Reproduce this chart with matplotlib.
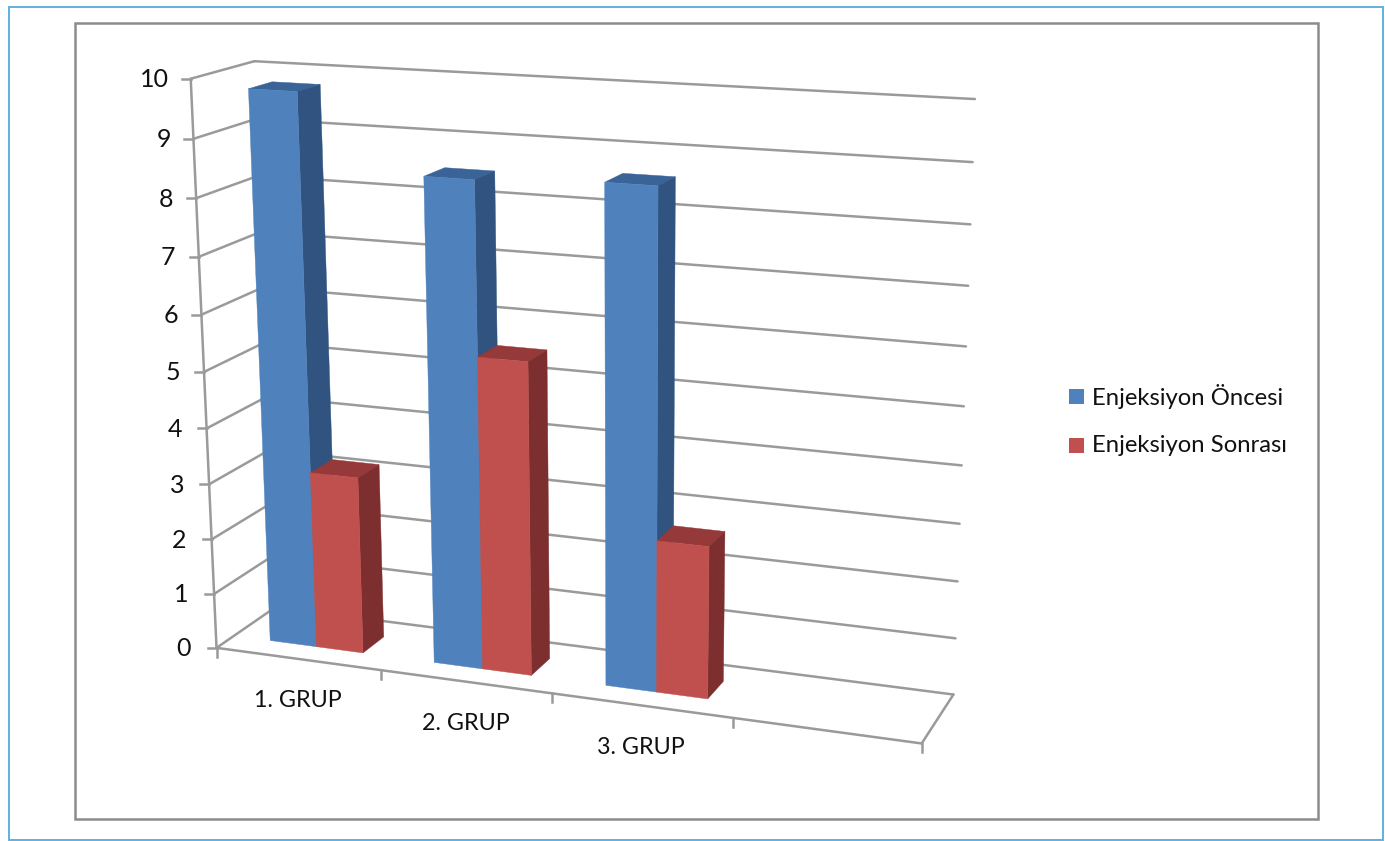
import numpy as np
import matplotlib
matplotlib.use("Agg")
import matplotlib.pyplot as plt
from matplotlib.patches import Polygon, Rectangle

# Chart data
categories = ["1. GRUP", "2. GRUP", "3. GRUP"]
series_names = ["Enjeksiyon Öncesi", "Enjeksiyon Sonrası"]
before_values = [9.78, 8.5, 8.6]
after_values = [3.19, 5.52, 2.67]
value_ticks = list(range(0, 11))

# Colours: (front, side, top)
BLUE = ("#4F81BD", "#305380", "#3A6498")
RED = ("#C0504D", "#7C2F2E", "#95393A")
GRID = "#9A9A9A"

# The plot box runs over four category slots, values 0-10 and unit depth.
SLOTS = 4
VMAX = 10
GAP_WIDTH = 1.5
BAR_SHIFT = 0.012
Z0, Z1 = 0.29, 0.67
GRID_LW = 1.8

# Box corners on the canvas, used to solve the camera of the 3-D view.
box_corners = [
    ((0, VMAX, 0), (192, 79)),
    ((0, 0, 0), (215, 648)),
    ((SLOTS, 0, 0), (922, 743)),
    ((SLOTS, 0, 1), (953, 695)),
    ((0, 0, 1), (277, 607)),
    ((0, VMAX, 1), (253, 61)),
    ((SLOTS, VMAX, 1), (975, 99)),
]


def solve_camera(corners):
    rows = []
    for (x, y, z), (u, v) in corners:
        u, v = u / 1000, v / 1000
        rows.append([x, y, z, 1, 0, 0, 0, 0, -u * x, -u * y, -u * z, -u])
        rows.append([0, 0, 0, 0, x, y, z, 1, -v * x, -v * y, -v * z, -v])
    return np.linalg.svd(np.array(rows, float))[2][-1].reshape(3, 4)


CAMERA = solve_camera(box_corners)


def project(x, y, z):
    p = CAMERA @ np.array([x, y, z, 1.0])
    return (1000 * p[0] / p[2], 1000 * p[1] / p[2])


fig = plt.figure(figsize=(13.85, 8.41), dpi=100)
ax = fig.add_axes([0, 0, 1, 1])
ax.set_xlim(0, 1385)
ax.set_ylim(841, 0)
ax.axis("off")

FONT = "Lato"
TEXT = "#111111"


def line3d(a, b, **kw):
    pa, pb = project(*a), project(*b)
    ax.plot([pa[0], pb[0]], [pa[1], pb[1]], color=GRID, lw=GRID_LW,
            solid_capstyle="round", **kw)


# Outer page rule and chart frame
ax.add_patch(Rectangle((9, 6.5), 1374, 833.5, fill=False, ec="#5FB0E4", lw=1.4))
ax.add_patch(Rectangle((75, 23), 1243, 796, fill=False, ec="#8C8C8C", lw=1.8))

# Gridlines on the side wall and back wall, value axis with its ticks
for v in value_ticks:
    line3d((0, v, 0), (0, v, 1))
    line3d((0, v, 1), (SLOTS, v, 1))
    px, py = project(0, v, 0)
    ax.plot([px - 9, px], [py, py], color=GRID, lw=GRID_LW)
    ax.text(px - (26 - 0.4 * v), py + 1, str(v), ha="right", va="center",
            fontsize=18, family=FONT, color=TEXT)
line3d((0, 0, 0), (0, VMAX, 0))

# Floor outline and category axis ticks
line3d((0, 0, 0), (SLOTS, 0, 0))
line3d((SLOTS, 0, 0), (SLOTS, 0, 1))
for s in range(SLOTS + 1):
    px, py = project(s, 0, 0)
    ax.plot([px, px], [py, py + 9], color=GRID, lw=GRID_LW)

for i, name in enumerate(categories):
    px, py = project(i + 0.5, 0, 0)
    ax.text(px, py + 42, name, ha="center", va="center", fontsize=16.8,
            family=FONT, color=TEXT)


def bar3d(x0, x1, value, colours):
    front, side, top = colours
    faces = [
        ([(x0, value, Z0), (x1, value, Z0), (x1, value, Z1), (x0, value, Z1)], top),
        ([(x1, 0, Z0), (x1, 0, Z1), (x1, value, Z1), (x1, value, Z0)], side),
        ([(x0, 0, Z0), (x1, 0, Z0), (x1, value, Z0), (x0, value, Z0)], front),
    ]
    for pts, colour in faces:
        ax.add_patch(Polygon([project(*p) for p in pts], closed=True,
                             fc=colour, ec=colour, lw=0.3, zorder=3))


# Clustered bars, left to right so nearer faces cover farther ones
bar_w = 1 / (2 + GAP_WIDTH)
for i in range(len(categories)):
    start = i + GAP_WIDTH * bar_w / 2 + BAR_SHIFT
    bar3d(start, start + bar_w, before_values[i], BLUE)
    bar3d(start + bar_w, start + 2 * bar_w, after_values[i], RED)

# Legend
for name, colours, y in zip(series_names, (BLUE, RED), (396.5, 445.5)):
    ax.add_patch(Rectangle((1069, y - 7.5), 15, 15, fc=colours[0], ec="none"))
    ax.text(1092, y, name, ha="left", va="center", fontsize=17.2,
            family=FONT, color=TEXT)

fig.savefig("out.png", dpi=100)
